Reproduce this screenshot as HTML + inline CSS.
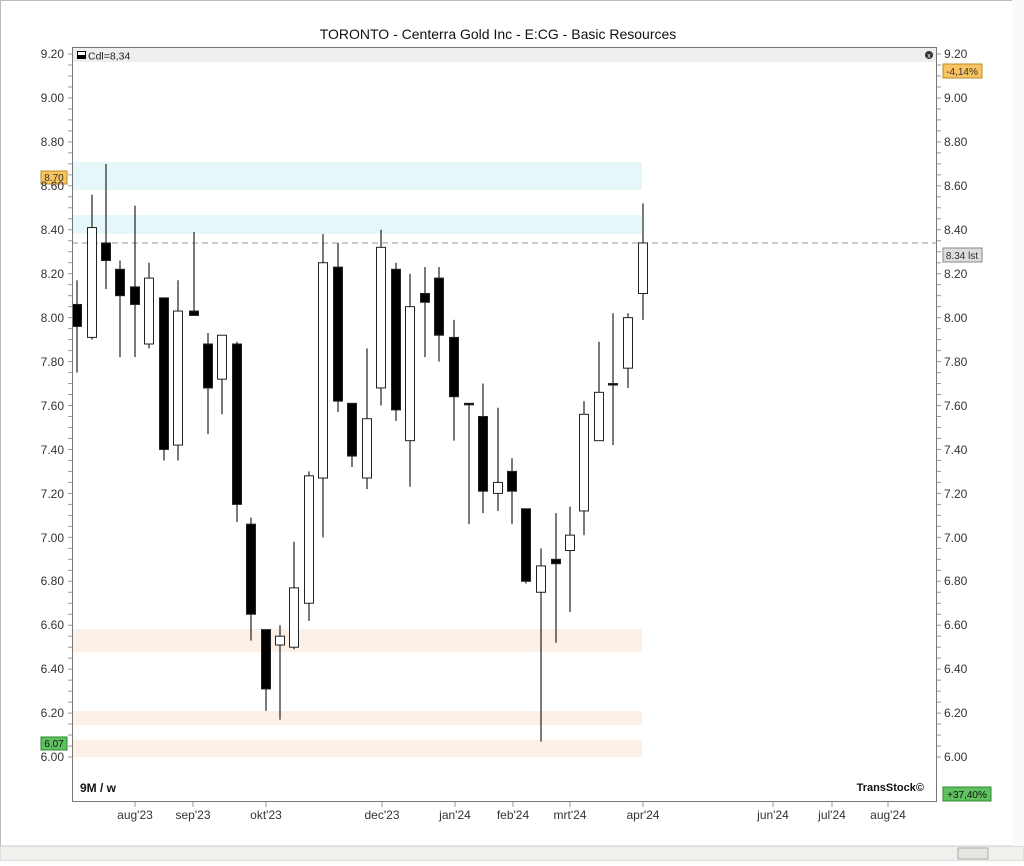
<!DOCTYPE html>
<html><head><meta charset="utf-8"><style>
body{margin:0;background:#fff;width:1024px;height:861px;overflow:hidden;font-family:"Liberation Sans",sans-serif}
</style></head><body>
<svg id="s" width="1024" height="861" xmlns="http://www.w3.org/2000/svg" font-family="Liberation Sans, sans-serif">
<rect x="0" y="0" width="1024" height="861" fill="#fff"/>
<rect x="0.5" y="0.5" width="1023" height="860" fill="none" stroke="#bbb"/>
<text x="498" y="39" font-size="14" text-anchor="middle" fill="#111">TORONTO - Centerra Gold Inc - E:CG - Basic Resources</text>
<rect x="72" y="162" width="570" height="28" fill="#e6f7f9"/>
<rect x="72" y="215" width="570" height="19" fill="#e6f7f9"/>
<rect x="72" y="629" width="570" height="23" fill="#fdf0e6"/>
<rect x="72" y="711" width="570" height="14" fill="#fdf0e6"/>
<rect x="72" y="740" width="570" height="17" fill="#fdf0e6"/>
<rect x="73" y="48" width="863" height="14" fill="#eeeeee"/>
<rect x="77" y="51" width="9" height="8" fill="#000"/><rect x="78" y="52" width="7" height="3" fill="#fff"/>
<text x="88" y="59.5" font-size="10.5" fill="#222">Cdl=8,34</text>
<circle cx="929" cy="55" r="4" fill="#333"/><text x="929" y="58" font-size="7" fill="#fff" text-anchor="middle">x</text>
<line x1="72" y1="243" x2="937" y2="243" stroke="#999" stroke-dasharray="6,4"/>
<g id="c"></g>
<rect x="72.5" y="47.5" width="864" height="754" fill="none" stroke="#777"/>
<g id="ax" font-size="12" fill="#333"></g>
<rect x="41" y="171" width="26" height="13" fill="#f9c45f" stroke="#b78a2c"/><text x="54" y="181" font-size="10" text-anchor="middle" fill="#333">8.70</text>
<rect x="41" y="737" width="26" height="13" fill="#5fc15f" stroke="#2e8a2e"/><text x="54" y="747" font-size="10" text-anchor="middle" fill="#111">6.07</text>
<rect x="943" y="64" width="39" height="14" fill="#f9c45f" stroke="#b78a2c"/><text x="962" y="75" font-size="10" text-anchor="middle" fill="#333">-4,14%</text>
<rect x="943" y="248" width="39" height="14" fill="#ddd" stroke="#888"/><text x="962" y="259" font-size="10" text-anchor="middle" fill="#333">8.34 lst</text>
<rect x="943" y="787" width="48" height="14" fill="#5fc15f" stroke="#2e8a2e"/><text x="967" y="798" font-size="10" text-anchor="middle" fill="#111">+37,40%</text>
<text x="80" y="792" font-size="12" font-weight="bold" fill="#111">9M / w</text>
<text x="924" y="791" font-size="11" font-weight="bold" fill="#111" text-anchor="end">TransStock©</text>
<g font-size="12" fill="#333" text-anchor="middle">
<text x="135" y="819">aug'23</text><text x="193" y="819">sep'23</text><text x="266" y="819">okt'23</text><text x="382" y="819">dec'23</text><text x="455" y="819">jan'24</text><text x="513" y="819">feb'24</text><text x="570" y="819">mrt'24</text><text x="643" y="819">apr'24</text><text x="773" y="819">jun'24</text><text x="832" y="819">jul'24</text><text x="888" y="819">aug'24</text>
</g>
<g font-size="12" fill="#333">
<text x="64" y="58" text-anchor="end">9.20</text><text x="64" y="102" text-anchor="end">9.00</text><text x="64" y="146" text-anchor="end">8.80</text><text x="64" y="190" text-anchor="end">8.60</text><text x="64" y="234" text-anchor="end">8.40</text><text x="64" y="278" text-anchor="end">8.20</text><text x="64" y="322" text-anchor="end">8.00</text><text x="64" y="366" text-anchor="end">7.80</text><text x="64" y="410" text-anchor="end">7.60</text><text x="64" y="454" text-anchor="end">7.40</text><text x="64" y="498" text-anchor="end">7.20</text><text x="64" y="542" text-anchor="end">7.00</text><text x="64" y="585" text-anchor="end">6.80</text><text x="64" y="629" text-anchor="end">6.60</text><text x="64" y="673" text-anchor="end">6.40</text><text x="64" y="717" text-anchor="end">6.20</text><text x="64" y="761" text-anchor="end">6.00</text>
<text x="944" y="58">9.20</text><text x="944" y="102">9.00</text><text x="944" y="146">8.80</text><text x="944" y="190">8.60</text><text x="944" y="234">8.40</text><text x="944" y="278">8.20</text><text x="944" y="322">8.00</text><text x="944" y="366">7.80</text><text x="944" y="410">7.60</text><text x="944" y="454">7.40</text><text x="944" y="498">7.20</text><text x="944" y="542">7.00</text><text x="944" y="585">6.80</text><text x="944" y="629">6.60</text><text x="944" y="673">6.40</text><text x="944" y="717">6.20</text><text x="944" y="761">6.00</text>
</g>
<rect x="0" y="846" width="1024" height="15" fill="#f0f0ec" stroke="#ccc"/>
<rect x="958" y="848" width="30" height="11" fill="#e6e6e0" stroke="#aaa"/>
<rect x="1012" y="0" width="12" height="846" fill="#fafafa"/>
</svg>
<script>
var Y=function(v){return 54+(9.2-v)*219.7;};
var d=[[77,8.06,7.96,8.17,7.75],[92,7.91,8.41,8.56,7.90],[106,8.34,8.26,8.70,8.13],[120,8.22,8.10,8.26,7.82],[135,8.14,8.06,8.51,7.82],[149,7.88,8.18,8.25,7.86],[164,8.09,7.40,8.09,7.35],[178,7.42,8.03,8.17,7.35],[194,8.03,8.01,8.39,8.01],[208,7.88,7.68,7.93,7.47],[222,7.72,7.92,7.92,7.56],[237,7.88,7.15,7.89,7.07],[251,7.06,6.65,7.09,6.53],[266,6.58,6.31,6.58,6.21],[280,6.51,6.55,6.60,6.17],[294,6.50,6.77,6.98,6.49],[309,6.70,7.28,7.30,6.62],[323,7.27,8.25,8.38,7.00],[338,8.23,7.62,8.34,7.57],[352,7.61,7.37,7.61,7.32],[367,7.27,7.54,7.86,7.22],[381,7.68,8.32,8.40,7.60],[396,8.22,7.58,8.25,7.53],[410,7.44,8.05,8.20,7.23],[425,8.11,8.07,8.23,7.82],[439,8.18,7.92,8.23,7.80],[454,7.91,7.64,7.99,7.44],[469,7.61,7.605,7.61,7.06],[483,7.55,7.21,7.70,7.11],[498,7.20,7.25,7.59,7.12],[512,7.30,7.21,7.36,7.06],[526,7.13,6.80,7.13,6.79],[541,6.75,6.87,6.95,6.07],[556,6.90,6.88,7.11,6.52],[570,6.94,7.01,7.14,6.66],[584,7.12,7.56,7.62,7.01],[599,7.44,7.66,7.89,7.44],[613,7.70,7.695,8.02,7.42],[628,7.77,8.00,8.02,7.68],[643,8.11,8.34,8.52,7.99]];
var h='';d.forEach(function(c){var x=c[0],o=c[1],cl=c[2],hi=c[3],lo=c[4];
h+='<line x1="'+x+'" x2="'+x+'" y1="'+Y(hi)+'" y2="'+Y(lo)+'" stroke="#222" stroke-width="1.2"/>';
var t=Y(Math.max(o,cl)),b=Y(Math.min(o,cl));var hh=Math.max(b-t,1.5);
h+='<rect x="'+(x-4.5)+'" y="'+t+'" width="9" height="'+hh+'" fill="'+(cl<o?'#000':'#fff')+'" stroke="#222" stroke-width="1"/>';});
document.getElementById('c').innerHTML=h;
var a='';for(var v=6.0;v<=9.21;v+=0.05){var y=Y(v);a+='<line x1="68" x2="72" y1="'+y+'" y2="'+y+'" stroke="#999"/><line x1="937" x2="941" y1="'+y+'" y2="'+y+'" stroke="#999"/>';}
[135,193,266,382,455,513,570,643,773,832,888].forEach(function(x){a+='<line x1="'+x+'" x2="'+x+'" y1="802" y2="807" stroke="#999"/>';});
document.getElementById('ax').innerHTML=a;
</script>
</body></html>
